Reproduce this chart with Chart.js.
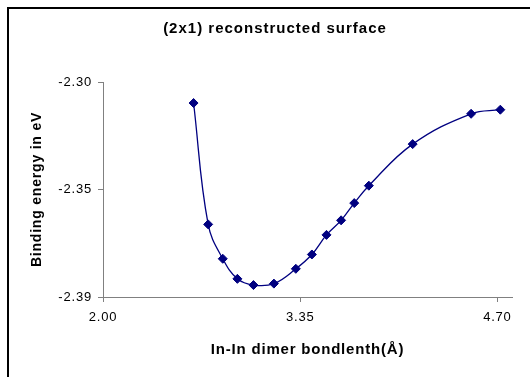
<!DOCTYPE html>
<html>
<head>
<meta charset="utf-8">
<script src="https://cdn.jsdelivr.net/npm/chart.js@4/dist/chart.umd.min.js"></script>
<style>
  html, body { margin: 0; padding: 0; background: #fff; }
  #wrap { width: 530px; height: 377px; }
</style>
</head>
<body>
<div id="wrap"><canvas id="c" width="530" height="377"></canvas></div>
<script>
const chartTitle = "(2x1) reconstructed surface";
const xTitle = "In-In dimer bondlenth(Å)";
const yTitle = "Binding energy in eV";

const bondLength = [2.62, 2.72, 2.82, 2.92, 3.03, 3.17, 3.32, 3.43, 3.53, 3.63, 3.72, 3.82, 4.12, 4.52, 4.72];
const bindingEnergy = [-2.3088, -2.3596, -2.3740, -2.3824, -2.3850, -2.3844, -2.3782, -2.3722, -2.3640, -2.3579, -2.3507, -2.3434, -2.3260, -2.3133, -2.3116];

const xTickValues = [2.00, 3.35, 4.70];
const xTickLabels = ["2.00", "3.35", "4.70"];
const yTickValues = [-2.39, -2.345, -2.30];
const yTickLabels = ["-2.39", "-2.35", "-2.30"];

const points = bondLength.map((x, i) => ({ x: x, y: bindingEnergy[i] }));

const FONT = "'Liberation Sans', Arial, sans-serif";
const axisColor = '#808080';
const seriesColor = '#000080';

const decorPlugin = {
  id: 'decor',
  beforeLayout(chart) { chart.ctx.letterSpacing = '0.8px'; },
  beforeDraw(chart) {
    const ctx = chart.ctx;
    ctx.save();
    ctx.fillStyle = '#ffffff';
    ctx.fillRect(0, 0, chart.width, chart.height);
    ctx.strokeStyle = '#000000';
    ctx.lineWidth = 2;
    ctx.strokeRect(8, 8, 700, 600);
    ctx.restore();
    ctx.letterSpacing = '0.8px';
  },
  afterDraw(chart) {
    const ctx = chart.ctx;
    ctx.save();
    ctx.letterSpacing = '1px';
    ctx.font = "bold 15px " + FONT;
    ctx.fillStyle = '#000000';
    ctx.textAlign = 'center';
    ctx.textBaseline = 'middle';
    ctx.fillText(chartTitle, 275, 29);
    ctx.restore();
  }
};

new Chart(document.getElementById('c'), {
  type: 'scatter',
  data: {
    datasets: [{
      data: points,
      showLine: true,
      borderColor: seriesColor,
      backgroundColor: seriesColor,
      borderWidth: 1.3,
      tension: 0.4,
      pointStyle: 'rectRot',
      pointRadius: 4.5,
      pointBorderWidth: 1,
      pointBorderColor: seriesColor,
      pointBackgroundColor: seriesColor
    }]
  },
  options: {
    responsive: false,
    animation: false,
    devicePixelRatio: 1,
    layout: { padding: { left: 8, top: 82, right: 18, bottom: 0 } },
    plugins: {
      legend: { display: false },
      title: { display: false },
      tooltip: { enabled: false }
    },
    scales: {
      x: {
        type: 'linear',
        min: 2.0,
        max: 4.8,
        afterBuildTicks(scale) { scale.ticks = xTickValues.map(v => ({ value: v })); },
        afterFit(scale) { scale.height = 80; },
        ticks: {
          color: '#000000',
          font: { family: FONT, size: 13 },
          padding: 8,
          maxRotation: 0,
          autoSkip: false,
          callback: (v, i) => xTickLabels[i]
        },
        grid: { drawOnChartArea: false, drawTicks: true, tickLength: 5, color: axisColor },
        border: { color: axisColor, width: 1 },
        title: {
          display: true,
          text: xTitle,
          color: '#000000',
          font: { family: FONT, size: 15, weight: 'bold' },
          padding: { top: 0, bottom: 18 }
        }
      },
      y: {
        type: 'linear',
        min: -2.39,
        max: -2.30,
        afterBuildTicks(scale) { scale.ticks = yTickValues.map(v => ({ value: v })); },
        afterFit(scale) { scale.width = 95; },
        ticks: {
          color: '#000000',
          font: { family: FONT, size: 13 },
          padding: 6,
          autoSkip: false,
          callback: (v, i) => yTickLabels[i]
        },
        grid: { drawOnChartArea: false, drawTicks: true, tickLength: 5, color: axisColor },
        border: { color: axisColor, width: 1 },
        title: {
          display: true,
          text: yTitle,
          color: '#000000',
          font: { family: FONT, size: 14, weight: 'bold' },
          padding: { top: 21, bottom: 0 }
        }
      }
    }
  },
  plugins: [decorPlugin]
});
</script>
</body>
</html>
